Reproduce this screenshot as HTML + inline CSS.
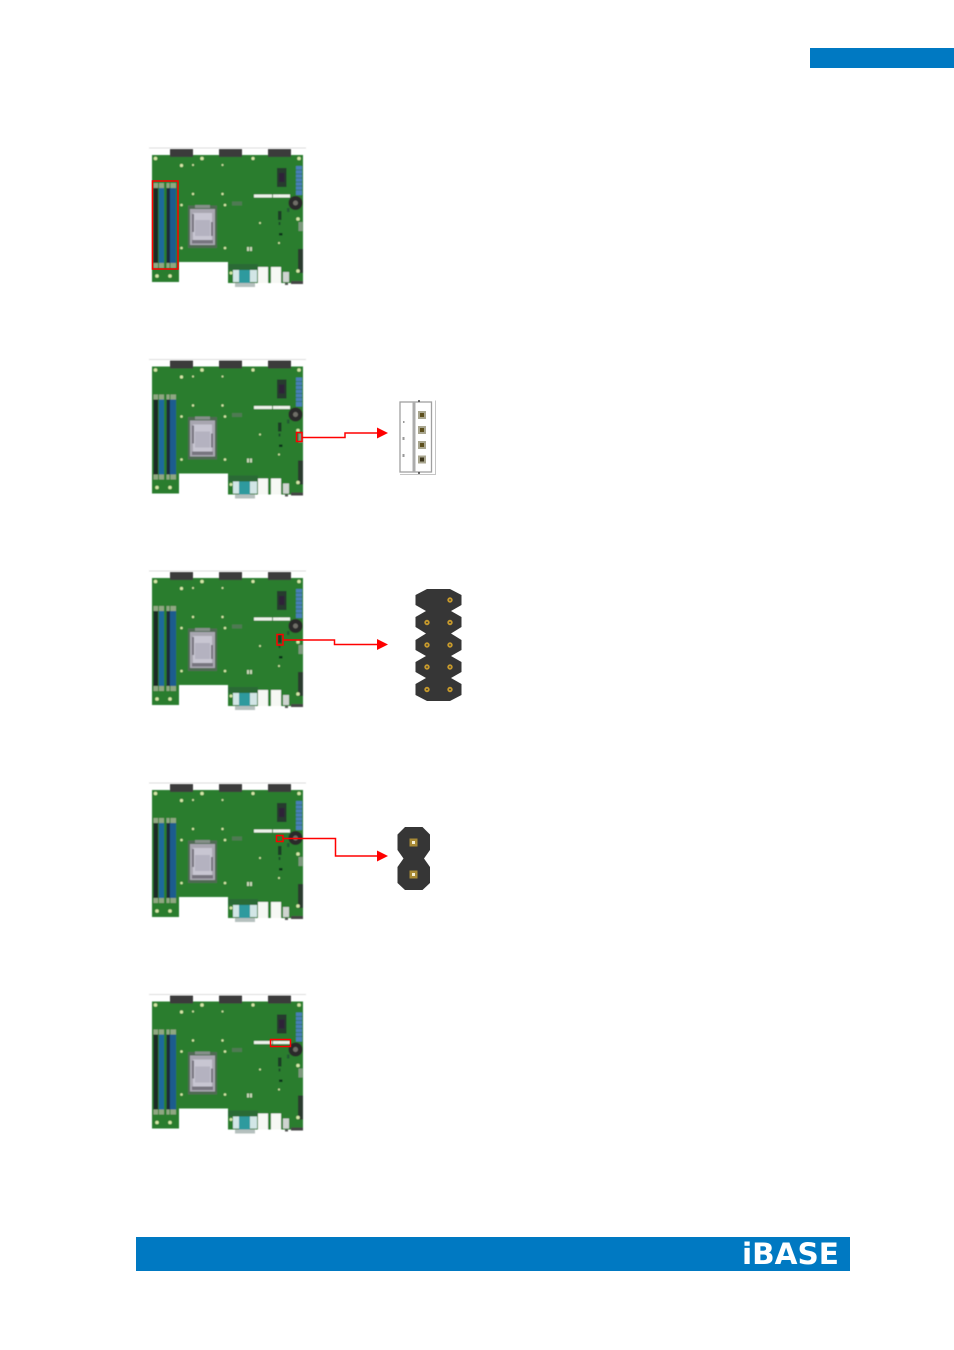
<!DOCTYPE html>
<html>
<head>
<meta charset="utf-8">
<style>
html,body{margin:0;padding:0;background:#fff;}
svg{display:block;}
</style>
</head>
<body>
<svg width="954" height="1350" viewBox="0 0 954 1350" xmlns="http://www.w3.org/2000/svg">
<defs>
<filter id="b" x="-5%" y="-5%" width="110%" height="110%"><feGaussianBlur stdDeviation="0.55"/></filter>
<g id="board">
  <g filter="url(#b)">
  <rect x="149" y="147.500" width="157" height="1" fill="#ddd"/>
  <path d="M152 155H303V283H228V262H179V282H152Z" fill="#2b7d2d"/>
  <rect x="170" y="149" width="23" height="8" fill="#3a3a3a"/>
  <rect x="219" y="149" width="23" height="8" fill="#3a3a3a"/>
  <rect x="268" y="149" width="23" height="8" fill="#3a3a3a"/>
  <!-- DIMM -->
  <rect x="153.500" y="183" width="4.500" height="85" fill="#8fa782"/>
  <rect x="159" y="183" width="5" height="85" fill="#8fa782"/>
  <rect x="166.500" y="183" width="3" height="85" fill="#8fa782"/>
  <rect x="170.500" y="183" width="5.500" height="85" fill="#8fa782"/>
  <rect x="153.500" y="188" width="4.500" height="75" fill="#1c2a28"/>
  <rect x="159" y="188" width="5" height="75" fill="#1f6a9c"/>
  <rect x="166.500" y="188" width="3.500" height="75" fill="#1c2a3a"/>
  <rect x="170" y="188" width="6" height="75" fill="#1d5c8e"/>
  <!-- CPU -->
  <rect x="188" y="205.500" width="29" height="42.500" fill="#4f6a52"/>
  <rect x="190" y="209" width="25" height="36" fill="#a8a6b0"/>
  <rect x="193" y="213" width="19" height="28" fill="#c8c6d2"/>
  <rect x="195" y="220" width="15" height="16" fill="#b4b2c0"/>
  <rect x="192" y="240" width="21" height="3.500" fill="#77757f"/>
  <rect x="195" y="205" width="15" height="3" fill="#86908a"/>
  <rect x="192" y="214" width="2" height="18" fill="#77757f"/>
  <rect x="211" y="222" width="2" height="14" fill="#77757f"/>
  <!-- strips -->
  <rect x="254" y="194.500" width="18" height="3" fill="#eef3ea"/>
  <rect x="273" y="194.500" width="17" height="3" fill="#eef3ea"/>
  <rect x="277" y="168" width="9.500" height="19" fill="#263a2e"/>
  <rect x="279" y="173" width="5.500" height="9" fill="#2e2438"/>
  <rect x="296" y="166" width="6" height="29" fill="#4a7fb8"/>
  <path d="M296 170H302M296 174H302M296 178H302M296 182H302M296 186H302M296 190H302" stroke="#2a6f60" stroke-width="0.800"/>
  <circle cx="295.500" cy="203" r="7" fill="#2b2b2a"/>
  <circle cx="295.500" cy="203" r="2.500" fill="#6f6e68"/>
  <rect x="232" y="201.500" width="10" height="4" fill="#4f7a52"/>
  <rect x="278" y="211" width="3.500" height="9" fill="#1d3d25"/>
  <rect x="278.500" y="222" width="2" height="3" fill="#1d4d2a"/>
  <rect x="287" y="208" width="2.500" height="4" fill="#235a30"/>
  <rect x="279" y="233" width="3.500" height="2.500" fill="#10301a"/>
  <rect x="298" y="249" width="5" height="24" fill="#2c3a2e"/>
  <rect x="298.500" y="222" width="4" height="9" fill="#7e9a7e"/>
  <rect x="279" y="195" width="1" height="1" fill="#fff"/>
  <g fill="#c8d8b8"><rect x="247" y="247" width="2" height="4"/><rect x="250" y="247" width="2" height="4"/></g>
  <!-- IO -->
  <rect x="228" y="264" width="30" height="6" fill="#2a6a34"/>
  <rect x="233" y="270" width="24" height="12" fill="#d2e6e6"/>
  <rect x="239" y="270" width="11" height="13" fill="#2d9a9e"/>
  <rect x="235" y="283" width="20" height="4" fill="#b5c0be"/>
  <rect x="258" y="267" width="10" height="16" fill="#f6f8f4"/>
  <rect x="271" y="267" width="10" height="16" fill="#f6f8f4"/>
  <rect x="283" y="272" width="6" height="10" fill="#cfd4d0"/>
  <rect x="285" y="283" width="3" height="2" fill="#555"/>
  <rect x="291" y="281" width="12" height="3" fill="#444"/>
  <!-- mounting & dots -->
  <g fill="#d6e8a8">
    <circle cx="155.500" cy="158.500" r="1.800"/><circle cx="181.500" cy="165.500" r="1.600"/><circle cx="202" cy="158.500" r="1.800"/>
    <circle cx="253" cy="158.500" r="1.600"/><circle cx="299" cy="158.500" r="1.800"/><circle cx="193" cy="165" r="1"/>
    <circle cx="222.500" cy="165" r="1"/><circle cx="193" cy="194" r="1.200"/><circle cx="222.500" cy="194" r="1.200"/>
    <circle cx="181.500" cy="205" r="1.300"/><circle cx="225" cy="205" r="1.300"/><circle cx="181.500" cy="248" r="1.300"/>
    <circle cx="225" cy="248" r="1.300"/><circle cx="260" cy="223" r="1"/><circle cx="279" cy="243" r="1"/>
    <circle cx="298" cy="219" r="1.800"/><circle cx="298" cy="271" r="1.800"/><circle cx="157" cy="276" r="1.800"/><circle cx="170" cy="276" r="1.800"/>
    <circle cx="231" cy="273" r="1.500"/>
  </g>
  </g>
</g>
<path id="arrow" d="M0-5.500L11 0L0 5.500Z" fill="#ff0000"/>
</defs>

<rect width="954" height="1350" fill="#fff"/>
<rect x="810" y="48" width="144" height="20" fill="#0079c2"/>

<use href="#board"/>
<use href="#board" y="211.500"/>
<use href="#board" y="423"/>
<use href="#board" y="635"/>
<use href="#board" y="846.500"/>

<g fill="none" stroke="#ff0000" stroke-width="1.500">
  <rect x="152.500" y="181" width="25.500" height="88"/>
  <rect x="296.500" y="432.500" width="5.500" height="9"/>
  <path d="M302 437.500H345V433H378"/>
  <rect x="277" y="634.500" width="6" height="10.500"/>
  <path d="M283 640H334.500V644.500H378"/>
  <rect x="276.500" y="835.500" width="6.500" height="6"/>
  <path d="M283 838.500H335.500V856H378"/>
  <rect x="270.500" y="1039.500" width="20" height="7"/>
</g>
<use href="#arrow" x="377" y="433"/>
<use href="#arrow" x="377" y="644.500"/>
<use href="#arrow" x="377" y="856"/>

<!-- connector 1 -->
<g>
  <rect x="400" y="402" width="31.500" height="70" fill="#fff" stroke="#a0a0a0" stroke-width="1.300"/>
  <rect x="412.500" y="402" width="3" height="70" fill="#acacac"/>
  <path d="M400 474.500H435.500V400.500" fill="none" stroke="#c4c4c4" stroke-width="1"/>
  <g fill="#444">
    <circle cx="419" cy="401" r="1"/><circle cx="419" cy="473" r="1"/>
  </g>
  <g fill="#999">
    <rect x="403" y="421" width="1.500" height="2"/>
    <rect x="402.500" y="437" width="2" height="3"/>
    <rect x="402.500" y="454" width="2" height="3"/>
  </g>
  <g>
    <rect x="418" y="411" width="8" height="8" fill="#a9a68f"/><rect x="420" y="413" width="4" height="4" fill="#5d4f1c"/>
    <rect x="418" y="426" width="8" height="8" fill="#a9a68f"/><rect x="420" y="428" width="4" height="4" fill="#5d4f1c"/>
    <rect x="418" y="441" width="8" height="8" fill="#a9a68f"/><rect x="420" y="443" width="4" height="4" fill="#5d4f1c"/>
    <rect x="418" y="455.500" width="8" height="8" fill="#a9a68f"/><rect x="420" y="457.500" width="4" height="4" fill="#3d361c"/>
  </g>
</g>

<!-- connector 2 -->
<path d="M427 589H450L461.500 595V605L451 611L461.500 617V627L451 633.500L461.500 640V650L451 656L461.500 662V672L451 678L461.500 684V695L450 701H427L415.500 695V684L426 678L415.500 672V662L426 656L415.500 650V640L426 633.500L415.500 627V617L426 611L415.500 605V595Z" fill="#363636"/>
<g fill="none" stroke="#c79a2c" stroke-width="1.800">
  <circle cx="450" cy="600" r="1.800"/><circle cx="450" cy="622.500" r="1.800"/><circle cx="450" cy="645" r="1.800"/><circle cx="450" cy="667" r="1.800"/><circle cx="450" cy="689.500" r="1.800"/>
  <circle cx="427" cy="622.500" r="1.800"/><circle cx="427" cy="645" r="1.800"/><circle cx="427" cy="667" r="1.800"/><circle cx="427" cy="689.500" r="1.800"/>
</g>

<!-- connector 3 -->
<path d="M405 827H422.500L430 834.500V850L424 858.500L430 867V883L422.500 890H405L397.500 883V867L403.500 858.500L397.500 850V834.500Z" fill="#363636"/>
<rect x="409.500" y="838.500" width="8" height="8" fill="#a88a35"/><rect x="412" y="841" width="3" height="3" fill="#f5f0d8"/>
<rect x="409.500" y="870.500" width="8" height="8" fill="#a88a35"/><rect x="412" y="873" width="3" height="3" fill="#f5f0d8"/>

<!-- footer -->
<rect x="136" y="1237" width="714" height="34" fill="#0079c2"/>
<text x="742" y="1264" font-family="'DejaVu Sans','Liberation Sans',sans-serif" font-weight="bold" font-size="29" fill="#fff" textLength="97" lengthAdjust="spacingAndGlyphs">iBASE</text>
</svg>
</body>
</html>
